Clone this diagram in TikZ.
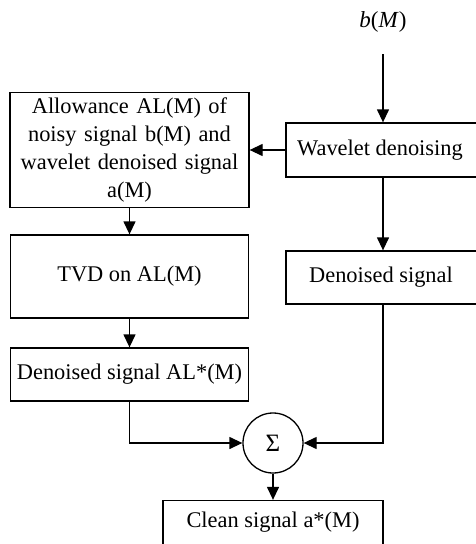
\documentclass[tikz,border=0pt]{standalone}
\usepackage{fontspec}
\setmainfont{Liberation Serif}
\usetikzlibrary{arrows.meta}
\tikzset{
  box/.style={draw, line width=1.3pt, rectangle, align=center, inner sep=0pt,
    font=\fontsize{22.4}{28}\selectfont},
  arr/.style={line width=1.3pt, -{Triangle[length=13pt,width=12pt]}},
  sumc/.style={draw, circle, line width=1.3pt, minimum size=60pt, inner sep=0pt,
    font=\fontsize{25}{28}\selectfont}
}
\begin{document}
\begin{tikzpicture}[x=1pt,y=-1pt]
\useasboundingbox (0,0) rectangle (476,544);
\clip (0,0) rectangle (476,544);
\node[font=\fontsize{23}{28}\selectfont] (bM) at (383,22) {\textit{b}(\textit{M})};
\coordinate (bMend) at (383,54);
\node[box, minimum width=194pt, minimum height=54pt] (wav) at (383,150) {Wavelet denoising\hspace{6pt}};
\node[box, minimum width=239pt, minimum height=115pt, text width=232pt] (box1) at (129.5,150) {Allowance AL(M) of\\noisy signal b(M) and\\wavelet denoised signal\\a(M)};
\node[box, minimum width=238pt, minimum height=83pt] (tvd) at (129.5,276.5) {TVD on AL(M)};
\node[box, minimum width=238pt, minimum height=53pt] (als) at (129.5,374.5) {Denoised signal AL*(M)};
\node[box, minimum width=194pt, minimum height=53pt] (den) at (383,277.5) {Denoised signal\hspace{4pt}};
\node[sumc] (sum) at (273,443) {Σ};
\node[box, minimum width=220pt, minimum height=44pt] (clean) at (273,522.5) {Clean signal a*(M)};
\draw[arr] (bMend) -- (wav.north);
\draw[arr] (wav.west) -- (box1.east);
\draw[arr] (box1.south) -- (tvd.north);
\draw[arr] (tvd.south) -- (als.north);
\draw[arr] (wav.south) -- (den.north);
\draw[arr] (als.south) |- (sum.west);
\draw[arr] (den.south) |- (sum.east);
\draw[arr] (sum.south) -- (clean.north);
\end{tikzpicture}
\end{document}
